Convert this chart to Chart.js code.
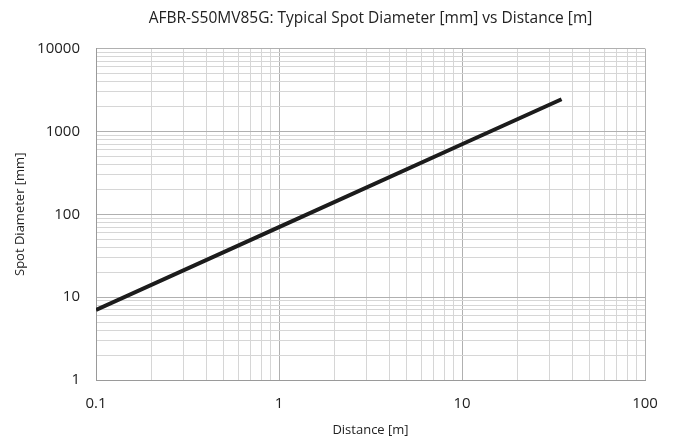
<!DOCTYPE html>
<html>
<head>
<meta charset="utf-8">
<script src="https://cdn.jsdelivr.net/npm/chart.js@4"></script>
<style>
  html, body { margin: 0; padding: 0; background: #fff; }
  #wrap { width: 679px; height: 445px; }
</style>
</head>
<body>
<div id="wrap"><canvas id="spotChart" width="679" height="445"></canvas></div>
<script>
// distance [m] and typical spot diameter [mm]
const distances = [0.1, 1, 10, 35];
const spotDiameters = [7, 70, 700, 2450];

// decade ticks that carry a label
const xMajorTicks = [0.1, 1, 10, 100];
const yMajorTicks = [1, 10, 100, 1000, 10000];

const FONT = '"Open Sans", sans-serif';

// every 1..9 multiple of each decade, so the grid gets its minor lines
function logTicks(majors) {
  const out = [];
  majors.forEach((m, i) => {
    if (i === majors.length - 1) { out.push({ value: m }); return; }
    for (let k = 1; k < 10; k++) out.push({ value: +(m * k).toPrecision(6) });
  });
  return out;
}

function isMajor(v, majors) {
  return majors.some(m => Math.abs(v - m) / m < 1e-6);
}

const ctx = document.getElementById('spotChart').getContext('2d');
new Chart(ctx, {
  type: 'line',
  data: {
    datasets: [{
      data: distances.map((d, i) => ({ x: d, y: spotDiameters[i] })),
      borderColor: '#1c1c1c',
      borderWidth: 4,
      pointRadius: 0,
      fill: false,
      tension: 0
    }]
  },
  options: {
    responsive: false,
    animation: false,
    layout: { padding: { left: 0, right: 34, top: 0, bottom: 0 } },
    plugins: {
      legend: { display: false },
      tooltip: { enabled: false },
      title: {
        display: true,
        fullSize: false,
        text: 'AFBR-S50MV85G: Typical Spot Diameter [mm] vs Distance [m]',
        color: '#222',
        font: { family: FONT, size: 15.5, weight: 'normal' },
        padding: { top: 9, bottom: 21 }
      }
    },
    scales: {
      x: {
        type: 'logarithmic',
        min: 0.1,
        max: 100,
        afterBuildTicks: s => { s.ticks = logTicks(xMajorTicks); },
        afterFit: s => { s.height = 65; },
        border: { color: '#9a9a9a' },
        grid: {
          color: c => isMajor(c.tick.value, xMajorTicks) ? '#b0b0b0' : '#d6d6d6',
          lineWidth: 1,
          drawTicks: false
        },
        ticks: {
          autoSkip: false,
          maxRotation: 0,
          padding: 15,
          color: '#222',
          font: { family: FONT, size: 15 },
          callback: v => isMajor(v, xMajorTicks) ? String(v) : ''
        },
        title: {
          display: true,
          text: 'Distance [m]',
          color: '#222',
          font: { family: FONT, size: 13 },
          padding: { top: 4, bottom: 7 }
        }
      },
      y: {
        type: 'logarithmic',
        min: 1,
        max: 10000,
        afterBuildTicks: s => { s.ticks = logTicks(yMajorTicks); },
        afterFit: s => { s.width = 96; },
        border: { color: '#9a9a9a' },
        grid: {
          color: c => isMajor(c.tick.value, yMajorTicks) ? '#b0b0b0' : '#d6d6d6',
          lineWidth: 1,
          drawTicks: false
        },
        ticks: {
          autoSkip: false,
          padding: 16,
          color: '#222',
          font: { family: FONT, size: 15 },
          callback: v => isMajor(v, yMajorTicks) ? String(v) : ''
        },
        title: {
          display: true,
          text: 'Spot Diameter [mm]',
          color: '#222',
          font: { family: FONT, size: 13 },
          padding: { top: 12, bottom: 4 }
        }
      }
    }
  }
});
</script>
</body>
</html>
